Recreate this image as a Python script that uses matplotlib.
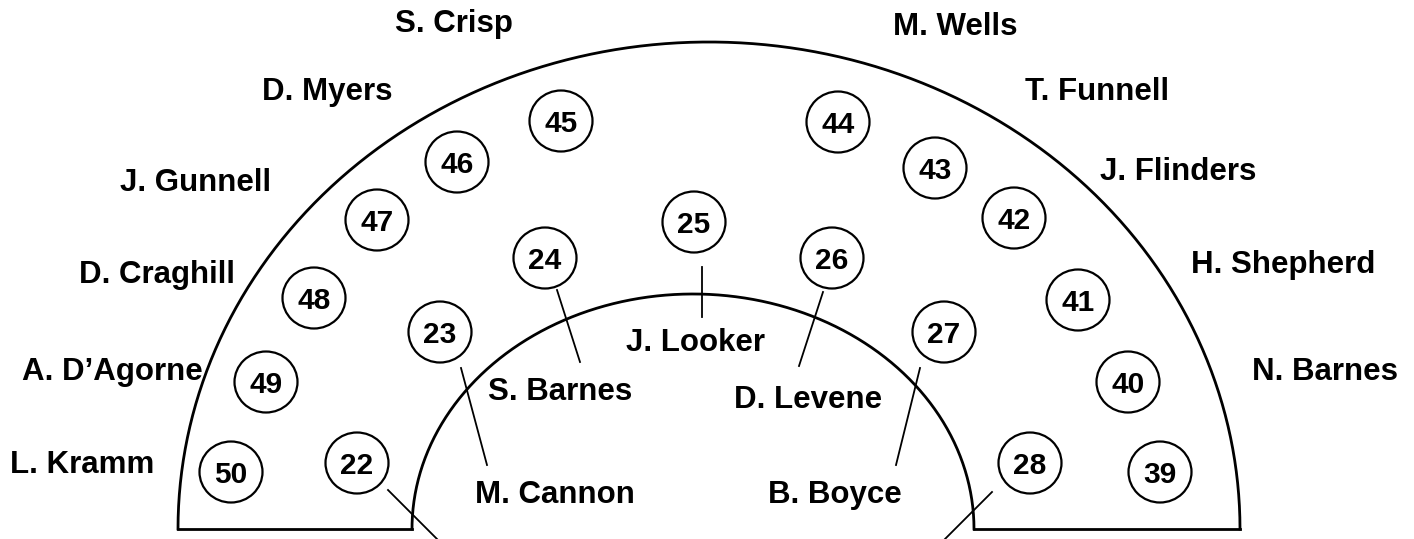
import matplotlib.pyplot as plt
import numpy as np
from matplotlib.patches import Ellipse

# Numeros de asiento y su posicion en el plano (pixeles)
seat_numbers = [50, 49, 48, 47, 46, 45, 44, 43, 42, 41, 40, 39,
                22, 23, 24, 25, 26, 27, 28]
seat_x = [231, 266, 314, 377, 457, 561, 838, 935, 1014, 1078, 1128, 1160,
          357, 440, 545, 694, 832, 944, 1030]
seat_y = [472, 382, 298, 220, 162, 121, 122, 168, 218, 300, 382, 472,
          463, 332, 258, 222, 258, 332, 463]

# Nombres de los ocupantes
names = ["L. Kramm", "A. D\u2019Agorne", "D. Craghill", "J. Gunnell", "D. Myers",
         "S. Crisp", "M. Wells", "T. Funnell", "J. Flinders", "H. Shepherd",
         "N. Barnes", "J. Looker", "S. Barnes", "D. Levene", "M. Cannon", "B. Boyce"]
name_x = [82, 112, 157, 196, 327, 454, 955, 1097, 1178, 1283, 1325,
          696, 560, 808, 555, 835]
name_y = [465, 372, 275, 183, 92, 24, 27, 92, 172, 265, 372,
          343, 392, 400, 495, 495]

# Lineas guia (x0, y0, x1, y1)
leaders = [(557, 290, 580, 362), (702, 267, 702, 317), (823, 292, 799, 366),
           (461, 368, 487, 465), (920, 368, 896, 465),
           (388, 490, 437, 539), (992, 492, 945, 539)]

fig = plt.figure(figsize=(14.14, 5.39), dpi=100)
ax = fig.add_axes([0, 0, 1, 1])
ax.set_xlim(0, 1414)
ax.set_ylim(539, 0)
ax.axis('off')

fuente_nombre = dict(family='Liberation Sans', fontweight='bold', fontsize=22.5)
fuente_num = dict(family='Liberation Sans', fontweight='bold', fontsize=21.5)

# Arcos exterior e interior
t = np.linspace(0, np.pi, 400)
ax.plot(709 + 531 * np.cos(t), 529 - 487 * np.sin(t), color='black', lw=2)
ax.plot(693 + 281 * np.cos(t), 529 - 235 * np.sin(t), color='black', lw=2)
ax.plot([178, 412], [529, 529], color='black', lw=2)
ax.plot([974, 1240], [529, 529], color='black', lw=2)

for x0, y0, x1, y1 in leaders:
    ax.plot([x0, x1], [y0, y1], color='black', lw=1.3)

for n, x, y in zip(seat_numbers, seat_x, seat_y):
    ax.add_patch(Ellipse((x, y), 63, 61, fill=False, edgecolor='black', lw=1.6))
    ax.text(x, y + 3, str(n), ha='center', va='center', **fuente_num)

for nombre, x, y in zip(names, name_x, name_y):
    ax.text(x, y, nombre, ha='center', va='center', **fuente_nombre)

fig.savefig('out.png', dpi=100)
